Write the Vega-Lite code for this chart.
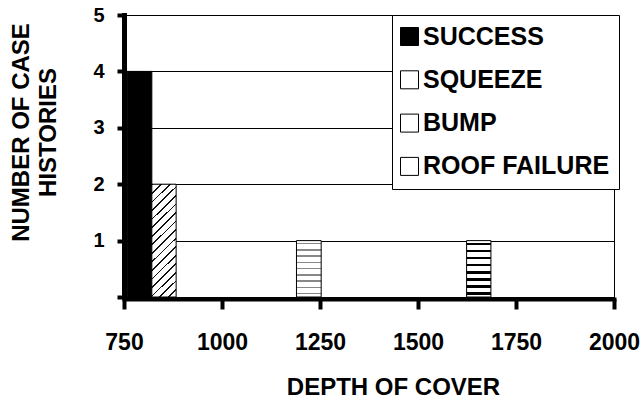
{
  "$schema": "https://vega.github.io/schema/vega-lite/v6.json",
  "width": 490,
  "height": 282,
  "autosize": {"type": "none"},
  "padding": {"left": 124, "top": 15, "right": 28, "bottom": 104},
  "background": "white",
  "config": {
    "view": {"stroke": "#000", "strokeWidth": 1},
    "font": "Liberation Sans"
  },
  "data": {
    "values": [
      {"outcome": "SUCCESS", "start": 758, "end": 821, "count": 4},
      {"outcome": "SQUEEZE", "start": 821, "end": 883, "count": 2},
      {"outcome": "ROOF FAILURE", "start": 1190, "end": 1253, "count": 1},
      {"outcome": "BUMP", "start": 1624, "end": 1686, "count": 1}
    ]
  },
  "mark": {"type": "bar", "stroke": "#000", "strokeWidth": 1},
  "encoding": {
    "x": {
      "field": "start",
      "type": "quantitative",
      "scale": {"domain": [750, 2000], "nice": false, "zero": false},
      "axis": {
        "title": "DEPTH OF COVER",
        "values": [750, 1000, 1250, 1500, 1750, 2000],
        "format": "d",
        "grid": false,
        "offset": 2,
        "domainColor": "#000",
        "domainWidth": 4,
        "domainCap": "square",
        "tickColor": "#000",
        "tickWidth": 4,
        "tickSize": 10,
        "labelFont": "Liberation Sans",
        "labelFontWeight": "bold",
        "labelFontSize": 23,
        "labelColor": "#000",
        "labelPadding": 22,
        "labelFlush": false,
        "labelOverlap": false,
        "titleFont": "Liberation Sans",
        "titleFontSize": 24,
        "titleFontWeight": "bold",
        "titleColor": "#000",
        "titleX": 269,
        "titleY": 95,
        "titleAlign": "center",
        "titleBaseline": "alphabetic"
      }
    },
    "x2": {"field": "end"},
    "y": {
      "field": "count",
      "type": "quantitative",
      "scale": {"domain": [0, 5], "nice": false},
      "axis": {
        "title": ["NUMBER OF CASE", "HISTORIES"],
        "values": [0, 1, 2, 3, 4, 5],
        "labelExpr": "datum.value == 0 ? '' : datum.label",
        "grid": true,
        "gridColor": "#000",
        "gridWidth": 1,
        "domainColor": "#000",
        "domainWidth": 5,
        "domainCap": "square",
        "tickColor": "#000",
        "tickWidth": 4,
        "tickSize": 7,
        "labelFont": "Liberation Sans",
        "labelFontWeight": "bold",
        "labelFontSize": 20,
        "labelColor": "#000",
        "labelPadding": 13,
        "titleFont": "Liberation Sans",
        "titleFontSize": 24,
        "titleFontWeight": "bold",
        "titleColor": "#000",
        "titleX": -96,
        "titleY": 117,
        "titleAlign": "center",
        "titleBaseline": "alphabetic",
        "titleAngle": 270,
        "titleLineHeight": 27.7
      }
    },
    "y2": {"datum": 0},
    "fill": {
      "field": "outcome",
      "type": "nominal",
      "condition": [
        {"test": "datum.outcome === 'SQUEEZE'", "value": {"gradient": "linear", "x1": 0, "y1": 0, "x2": 0.246, "y2": 1.16, "stops": [
            {"offset": 0, "color": "#111"}, {"offset": 0.0125, "color": "#111"}, {"offset": 0.0125, "color": "#fff"}, {"offset": 0.0625, "color": "#fff"},
            {"offset": 0.0625, "color": "#111"}, {"offset": 0.075, "color": "#111"}, {"offset": 0.075, "color": "#fff"}, {"offset": 0.125, "color": "#fff"},
            {"offset": 0.125, "color": "#111"}, {"offset": 0.1375, "color": "#111"}, {"offset": 0.1375, "color": "#fff"}, {"offset": 0.1875, "color": "#fff"},
            {"offset": 0.1875, "color": "#111"}, {"offset": 0.2, "color": "#111"}, {"offset": 0.2, "color": "#fff"}, {"offset": 0.25, "color": "#fff"},
            {"offset": 0.25, "color": "#111"}, {"offset": 0.2625, "color": "#111"}, {"offset": 0.2625, "color": "#fff"}, {"offset": 0.3125, "color": "#fff"},
            {"offset": 0.3125, "color": "#111"}, {"offset": 0.325, "color": "#111"}, {"offset": 0.325, "color": "#fff"}, {"offset": 0.375, "color": "#fff"},
            {"offset": 0.375, "color": "#111"}, {"offset": 0.3875, "color": "#111"}, {"offset": 0.3875, "color": "#fff"}, {"offset": 0.4375, "color": "#fff"},
            {"offset": 0.4375, "color": "#111"}, {"offset": 0.45, "color": "#111"}, {"offset": 0.45, "color": "#fff"}, {"offset": 0.5, "color": "#fff"},
            {"offset": 0.5, "color": "#111"}, {"offset": 0.5125, "color": "#111"}, {"offset": 0.5125, "color": "#fff"}, {"offset": 0.5625, "color": "#fff"},
            {"offset": 0.5625, "color": "#111"}, {"offset": 0.575, "color": "#111"}, {"offset": 0.575, "color": "#fff"}, {"offset": 0.625, "color": "#fff"},
            {"offset": 0.625, "color": "#111"}, {"offset": 0.6375, "color": "#111"}, {"offset": 0.6375, "color": "#fff"}, {"offset": 0.6875, "color": "#fff"},
            {"offset": 0.6875, "color": "#111"}, {"offset": 0.7, "color": "#111"}, {"offset": 0.7, "color": "#fff"}, {"offset": 0.75, "color": "#fff"},
            {"offset": 0.75, "color": "#111"}, {"offset": 0.7625, "color": "#111"}, {"offset": 0.7625, "color": "#fff"}, {"offset": 0.8125, "color": "#fff"},
            {"offset": 0.8125, "color": "#111"}, {"offset": 0.825, "color": "#111"}, {"offset": 0.825, "color": "#fff"}, {"offset": 0.875, "color": "#fff"},
            {"offset": 0.875, "color": "#111"}, {"offset": 0.8875, "color": "#111"}, {"offset": 0.8875, "color": "#fff"}, {"offset": 0.9375, "color": "#fff"},
            {"offset": 0.9375, "color": "#111"}, {"offset": 0.95, "color": "#111"}, {"offset": 0.95, "color": "#fff"}, {"offset": 1, "color": "#fff"}
          ]}},
        {"test": "datum.outcome === 'BUMP'", "value": {"gradient": "linear", "x1": 0, "y1": 0, "x2": 0, "y2": 1, "stops": [
            {"offset": 0, "color": "#fff"}, {"offset": 0.04, "color": "#fff"}, {"offset": 0.04, "color": "#000"}, {"offset": 0.084, "color": "#000"}, {"offset": 0.084, "color": "#fff"},
            {"offset": 0.165, "color": "#fff"}, {"offset": 0.165, "color": "#000"}, {"offset": 0.209, "color": "#000"}, {"offset": 0.209, "color": "#fff"},
            {"offset": 0.29, "color": "#fff"}, {"offset": 0.29, "color": "#000"}, {"offset": 0.334, "color": "#000"}, {"offset": 0.334, "color": "#fff"},
            {"offset": 0.415, "color": "#fff"}, {"offset": 0.415, "color": "#000"}, {"offset": 0.459, "color": "#000"}, {"offset": 0.459, "color": "#fff"},
            {"offset": 0.54, "color": "#fff"}, {"offset": 0.54, "color": "#000"}, {"offset": 0.584, "color": "#000"}, {"offset": 0.584, "color": "#fff"},
            {"offset": 0.665, "color": "#fff"}, {"offset": 0.665, "color": "#000"}, {"offset": 0.709, "color": "#000"}, {"offset": 0.709, "color": "#fff"},
            {"offset": 0.79, "color": "#fff"}, {"offset": 0.79, "color": "#000"}, {"offset": 0.834, "color": "#000"}, {"offset": 0.834, "color": "#fff"},
            {"offset": 0.915, "color": "#fff"}, {"offset": 0.915, "color": "#000"}, {"offset": 0.959, "color": "#000"}, {"offset": 0.959, "color": "#fff"},
            {"offset": 1, "color": "#fff"}
          ]}},
        {"test": "datum.outcome === 'ROOF FAILURE'", "value": {"gradient": "linear", "x1": 0, "y1": 0, "x2": 0, "y2": 1, "stops": [
            {"offset": 0, "color": "#fff"}, {"offset": 0.04, "color": "#fff"}, {"offset": 0.04, "color": "#888"}, {"offset": 0.065, "color": "#888"}, {"offset": 0.065, "color": "#fff"},
            {"offset": 0.151, "color": "#fff"}, {"offset": 0.151, "color": "#888"}, {"offset": 0.176, "color": "#888"}, {"offset": 0.176, "color": "#fff"},
            {"offset": 0.262, "color": "#fff"}, {"offset": 0.262, "color": "#888"}, {"offset": 0.287, "color": "#888"}, {"offset": 0.287, "color": "#fff"},
            {"offset": 0.373, "color": "#fff"}, {"offset": 0.373, "color": "#888"}, {"offset": 0.398, "color": "#888"}, {"offset": 0.398, "color": "#fff"},
            {"offset": 0.484, "color": "#fff"}, {"offset": 0.484, "color": "#888"}, {"offset": 0.509, "color": "#888"}, {"offset": 0.509, "color": "#fff"},
            {"offset": 0.596, "color": "#fff"}, {"offset": 0.596, "color": "#888"}, {"offset": 0.621, "color": "#888"}, {"offset": 0.621, "color": "#fff"},
            {"offset": 0.707, "color": "#fff"}, {"offset": 0.707, "color": "#888"}, {"offset": 0.732, "color": "#888"}, {"offset": 0.732, "color": "#fff"},
            {"offset": 0.818, "color": "#fff"}, {"offset": 0.818, "color": "#888"}, {"offset": 0.843, "color": "#888"}, {"offset": 0.843, "color": "#fff"},
            {"offset": 0.929, "color": "#fff"}, {"offset": 0.929, "color": "#888"}, {"offset": 0.954, "color": "#888"}, {"offset": 0.954, "color": "#fff"},
            {"offset": 1, "color": "#fff"}
          ]}}
      ],
      "scale": {
        "domain": ["SUCCESS", "SQUEEZE", "BUMP", "ROOF FAILURE"],
        "range": ["#000", "#fff", "#fff", "#fff"]
      },
      "legend": {
        "title": null,
        "orient": "none",
        "legendX": 268,
        "legendY": 0,
        "padding": 9,
        "rowPadding": 17.3,
        "strokeColor": "#000",
        "fillColor": "#fff",
        "symbolType": "square",
        "symbolSize": 324,
        "symbolOffset": -4,
        "symbolStrokeColor": "#000",
        "symbolStrokeWidth": 1,
        "symbolOpacity": 1,
        "labelFont": "Liberation Sans",
        "labelFontSize": 25,
        "labelFontWeight": "bold",
        "labelColor": "#000",
        "labelOffset": 1,
        "labelLimit": 300,
        "encode": {
          "labels": {
            "update": {
              "fontWeight": {"value": "bold"}
            }
          },
          "symbols": {
            "update": {
              "stroke": {"value": "#000"},
              "strokeWidth": {"value": 1},
              "size": {"value": 324},
              "shape": {"value": "square"},
              "fill": [
                {"test": "datum.value === 'SQUEEZE'", "value": {"gradient": "linear", "x1": 0, "y1": 0, "x2": 1, "y2": 1, "stops": [
                  {"offset": 0, "color": "#fff"}, {"offset": 0.1, "color": "#fff"}, {"offset": 0.1, "color": "#111"}, {"offset": 0.15, "color": "#111"}, {"offset": 0.15, "color": "#fff"},
                  {"offset": 0.35, "color": "#fff"}, {"offset": 0.35, "color": "#111"}, {"offset": 0.4, "color": "#111"}, {"offset": 0.4, "color": "#fff"},
                  {"offset": 0.6, "color": "#fff"}, {"offset": 0.6, "color": "#111"}, {"offset": 0.65, "color": "#111"}, {"offset": 0.65, "color": "#fff"},
                  {"offset": 0.85, "color": "#fff"}, {"offset": 0.85, "color": "#111"}, {"offset": 0.9, "color": "#111"}, {"offset": 0.9, "color": "#fff"},
                  {"offset": 1, "color": "#fff"}
                ]}},
                {"test": "datum.value === 'BUMP'", "value": {"gradient": "linear", "x1": 0, "y1": 0, "x2": 0, "y2": 1, "stops": [
                  {"offset": 0, "color": "#fff"}, {"offset": 0.12, "color": "#fff"}, {"offset": 0.12, "color": "#000"}, {"offset": 0.28, "color": "#000"}, {"offset": 0.28, "color": "#fff"},
                  {"offset": 0.42, "color": "#fff"}, {"offset": 0.42, "color": "#000"}, {"offset": 0.58, "color": "#000"}, {"offset": 0.58, "color": "#fff"},
                  {"offset": 0.72, "color": "#fff"}, {"offset": 0.72, "color": "#000"}, {"offset": 0.88, "color": "#000"}, {"offset": 0.88, "color": "#fff"},
                  {"offset": 1, "color": "#fff"}
                ]}},
                {"test": "datum.value === 'ROOF FAILURE'", "value": {"gradient": "linear", "x1": 0, "y1": 0, "x2": 0, "y2": 1, "stops": [
                  {"offset": 0, "color": "#fff"}, {"offset": 0.2, "color": "#fff"}, {"offset": 0.2, "color": "#888"}, {"offset": 0.27, "color": "#888"}, {"offset": 0.27, "color": "#fff"},
                  {"offset": 0.47, "color": "#fff"}, {"offset": 0.47, "color": "#888"}, {"offset": 0.54, "color": "#888"}, {"offset": 0.54, "color": "#fff"},
                  {"offset": 0.74, "color": "#fff"}, {"offset": 0.74, "color": "#888"}, {"offset": 0.81, "color": "#888"}, {"offset": 0.81, "color": "#fff"},
                  {"offset": 1, "color": "#fff"}
                ]}},
                {"value": "#000"}
              ]
            }
          }
        }
      }
    }
  }
}
